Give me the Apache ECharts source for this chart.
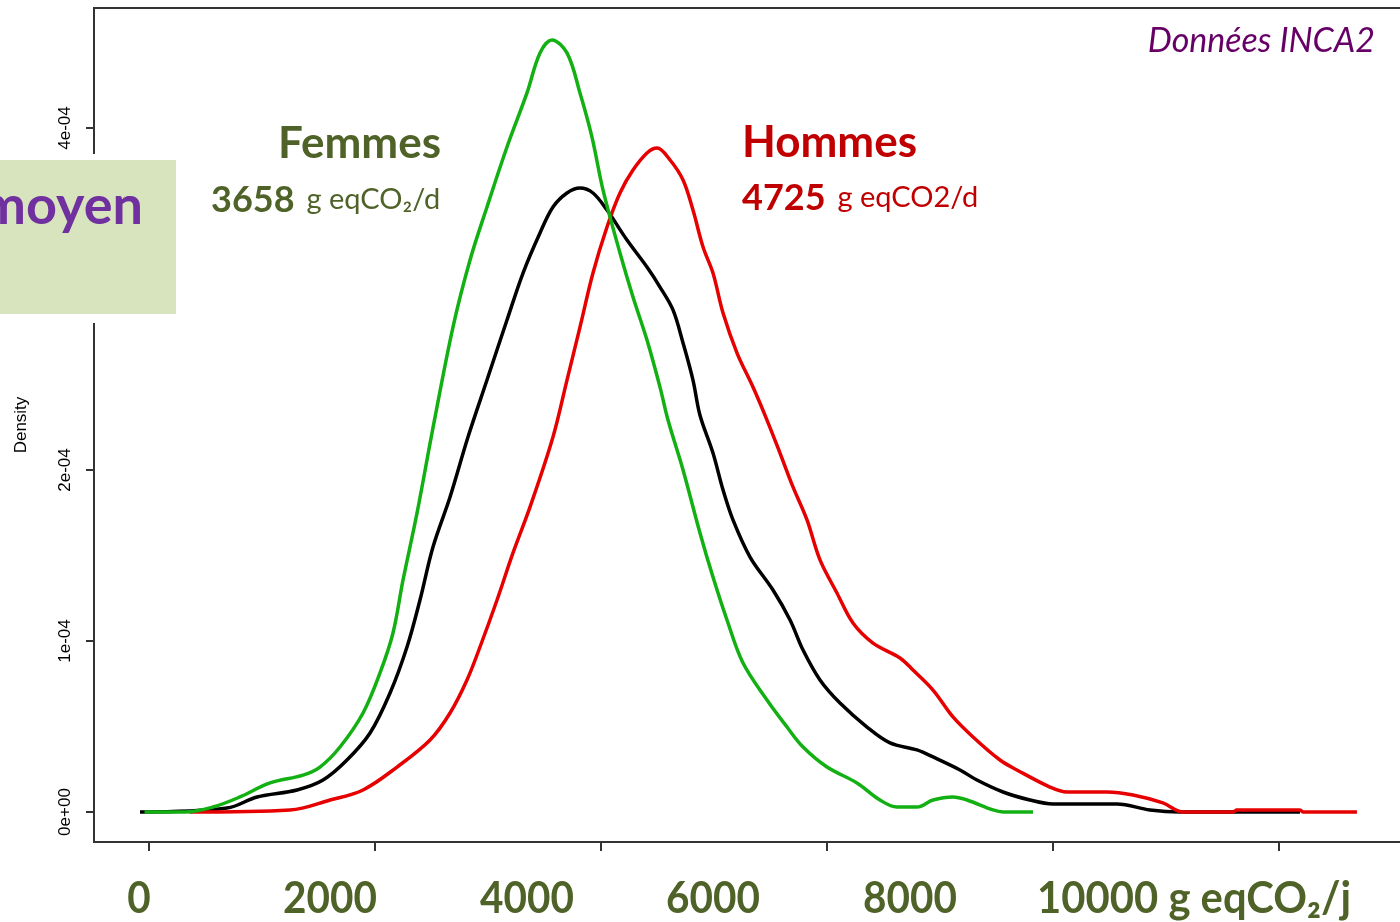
<!DOCTYPE html>
<html>
<head>
<meta charset="utf-8">
<script src="https://cdn.jsdelivr.net/npm/echarts@6/dist/echarts.min.js"></script>
<style>
html,body{margin:0;padding:0;background:#fff;}
#chart{width:1400px;height:922px;}
</style>
</head>
<body>
<div id="chart"></div>
<script>
// ---- data (x: g eqCO2/day, y: density) ----
const femmes = [
  [-40,0],[320,0],[566,2.9e-6],[805,8.8e-6],[1071,1.70e-5],[1363,2.16e-5],[1513,2.63e-5],
  [1690,3.80e-5],[1894,5.79e-5],[2044,8.13e-5],[2159,1.047e-4],[2248,1.357e-4],[2372,1.749e-4],
  [2513,2.246e-4],[2690,2.836e-4],[2841,3.228e-4],[2991,3.538e-4],[3168,3.889e-4],[3345,4.205e-4],
  [3460,4.439e-4],[3566,4.515e-4],[3699,4.439e-4],[3814,4.205e-4],[3920,3.947e-4],[4018,3.637e-4],
  [4168,3.269e-4],[4283,3.012e-4],[4407,2.760e-4],[4522,2.485e-4],[4593,2.292e-4],[4726,2.000e-4],
  [4876,1.632e-4],[4991,1.374e-4],[5115,1.123e-4],[5257,8.71e-5],[5469,6.55e-5],[5646,4.97e-5],
  [5788,3.80e-5],[6000,2.63e-5],[6265,1.70e-5],[6469,7.0e-6],[6619,2.9e-6],[6796,2.9e-6],
  [6938,7.0e-6],[7115,8.8e-6],[7239,7.0e-6],[7469,1.2e-6],[7558,0],[7823,0]
];
const ensemble = [
  [-80,0],[690,2.3e-6],[956,8.8e-6],[1310,1.29e-5],[1540,1.87e-5],[1752,3.04e-5],[1956,4.62e-5],
  [2133,6.96e-5],[2283,9.65e-5],[2398,1.240e-4],[2513,1.550e-4],[2664,1.842e-4],[2823,2.193e-4],
  [2991,2.526e-4],[3168,2.877e-4],[3310,3.152e-4],[3460,3.386e-4],[3575,3.538e-4],[3699,3.620e-4],
  [3814,3.649e-4],[3929,3.620e-4],[4053,3.520e-4],[4230,3.345e-4],[4407,3.187e-4],[4522,3.070e-4],
  [4637,2.936e-4],[4726,2.743e-4],[4814,2.526e-4],[4876,2.320e-4],[4991,2.099e-4],[5080,1.883e-4],
  [5168,1.708e-4],[5319,1.491e-4],[5522,1.298e-4],[5673,1.123e-4],[5788,9.47e-5],[5938,7.72e-5],
  [6115,6.37e-5],[6354,4.97e-5],[6558,4.04e-5],[6796,3.63e-5],[6938,3.22e-5],[7177,2.46e-5],
  [7327,1.87e-5],[7558,1.17e-5],[7796,7.0e-6],[8000,4.7e-6],[8566,4.7e-6],[8858,1.2e-6],
  [9124,0],[10186,0]
];
const hommes = [
  [360,0],[1248,1.2e-6],[1602,7.0e-6],[1894,1.29e-5],[2195,2.63e-5],[2487,4.21e-5],[2664,5.79e-5],
  [2814,7.72e-5],[2929,9.65e-5],[3080,1.240e-4],[3221,1.515e-4],[3372,1.784e-4],[3575,2.193e-4],
  [3699,2.526e-4],[3814,2.836e-4],[3929,3.152e-4],[4053,3.421e-4],[4168,3.620e-4],[4283,3.754e-4],
  [4407,3.854e-4],[4496,3.883e-4],[4611,3.813e-4],[4726,3.696e-4],[4814,3.520e-4],[4903,3.304e-4],
  [4991,3.152e-4],[5080,2.918e-4],[5204,2.684e-4],[5345,2.485e-4],[5469,2.292e-4],[5584,2.099e-4],
  [5699,1.901e-4],[5823,1.708e-4],[5938,1.474e-4],[6088,1.281e-4],[6230,1.105e-4],[6407,9.88e-5],
  [6646,9.01e-5],[6761,8.30e-5],[6938,7.13e-5],[7115,5.56e-5],[7292,4.39e-5],[7531,3.04e-5],
  [7681,2.46e-5],[7973,1.46e-5],[8124,1.17e-5],[8478,1.17e-5],[8708,9.9e-6],[8973,5.3e-6],
  [9150,0],[9593,0],[9628,1.2e-6],[10186,1.2e-6],[10212,0],[10690,0]
];
const xTickValues = [0, 2000, 4000, 6000, 8000, 10000];
const xTickLabels = ['0', '2000', '4000', '6000', '8000', '10000 g eqCO\u2082/j'];
const yTickValues = [0, 1e-4, 2e-4, 3e-4, 4e-4];
const yTickLabels = ['0e+00', '1e-04', '2e-04', '3e-04', '4e-04'];
const femmesMean = '3658';
const hommesMean = '4725';

// ---- chart ----
const chart = echarts.init(document.getElementById('chart'), null, {renderer: 'canvas'});
const olive = '#4F6228';
const xLabelCenters = [139, 330, 527, 713, 910, 1037];

const graphics = [];
xTickLabels.forEach(function (t, i) {
  const last = i === xTickLabels.length - 1;
  graphics.push({
    type: 'text', x: xLabelCenters[i], y: 899, scaleX: last ? 0.95 : 0.92, z: 100,
    style: {text: t, fontFamily: 'Lato', fontWeight: 'bold', fontSize: 44, fill: olive,
            align: last ? 'left' : 'center', verticalAlign: 'middle'}
  });
});
graphics.push(
  {type: 'rect', shape: {x: 0, y: 154, width: 174, height: 169}, style: {fill: '#ffffff'}, z: 89},
  {type: 'rect', shape: {x: 0, y: 160, width: 176, height: 154}, style: {fill: '#D7E4BD'}, z: 90},
  {type: 'text', x: 143, y: 207, z: 100,
   style: {text: 'moyen', fontFamily: 'Lato', fontWeight: 'bold', fontSize: 54, fill: '#7030A0',
           align: 'right', verticalAlign: 'middle'}},
  {type: 'text', x: 441, y: 144, z: 100,
   style: {text: 'Femmes', fontFamily: 'Lato', fontWeight: 'bold', fontSize: 44, fill: olive,
           align: 'right', verticalAlign: 'middle'}},
  {type: 'text', x: 211, y: 200, z: 100,
   style: {text: '{b|' + femmesMean + '}{s| }{r|g eqCO\u2082/d}', align: 'left', verticalAlign: 'middle',
           rich: {b: {fontFamily: 'Lato', fontWeight: 'bold', fontSize: 36, fill: olive},
                  s: {fontFamily: 'Lato', fontSize: 24, width: 12},
                  r: {fontFamily: 'Lato', fontSize: 29, fill: olive}}}},
  {type: 'text', x: 742, y: 143, z: 100,
   style: {text: 'Hommes', fontFamily: 'Lato', fontWeight: 'bold', fontSize: 44, fill: '#C00000',
           align: 'left', verticalAlign: 'middle'}},
  {type: 'text', x: 742, y: 198, z: 100,
   style: {text: '{b|' + hommesMean + '}{s| }{r|g eqCO2/d}', align: 'left', verticalAlign: 'middle',
           rich: {b: {fontFamily: 'Lato', fontWeight: 'bold', fontSize: 36, fill: '#C00000'},
                  s: {fontFamily: 'Lato', fontSize: 24, width: 12},
                  r: {fontFamily: 'Lato', fontSize: 29, fill: '#C00000'}}}},
  {type: 'text', x: 1375, y: 41, z: 100,
   style: {text: 'Donn\u00e9es INCA2', fontFamily: 'Lato', fontStyle: 'italic', fontSize: 34,
           fill: '#660066', align: 'right', verticalAlign: 'middle'}}
);

const option = {
  backgroundColor: '#ffffff',
  animation: false,
  grid: {left: 94, top: 8, width: 1320, height: 834, show: true, containLabel: false,
         outerBoundsMode: 'none',
         borderColor: '#333', borderWidth: 2, backgroundColor: 'transparent'},
  xAxis: {
    type: 'value', min: -487, max: 11195,
    axisLine: {show: false, onZero: false},
    splitLine: {show: false},
    axisTick: {show: true, length: 9, inside: false, customValues: xTickValues,
               lineStyle: {color: '#333', width: 2}},
    axisLabel: {show: false, customValues: xTickValues}
  },
  yAxis: {
    type: 'value', min: -1.754e-5, max: 4.7018e-4,
    name: 'Density', nameLocation: 'middle', nameRotate: 90, nameGap: 64,
    nameTextStyle: {fontFamily: 'Liberation Sans', fontSize: 17, color: '#000'},
    axisLine: {show: false, onZero: false},
    splitLine: {show: false},
    axisTick: {show: true, length: 8, customValues: yTickValues, lineStyle: {color: '#333', width: 2}},
    axisLabel: {show: true, customValues: yTickValues, rotate: 90, margin: 20,
                fontFamily: 'Liberation Sans', fontSize: 17, color: '#000',
                formatter: function (v) { return yTickLabels[Math.round(v / 1e-4)]; }}
  },
  series: [
    {name: 'Ensemble', type: 'line', data: ensemble, showSymbol: false, smooth: 0.35,
     lineStyle: {color: '#000000', width: 3.5}, z: 3},
    {name: 'Hommes', type: 'line', data: hommes, showSymbol: false, smooth: 0.35,
     lineStyle: {color: '#E60000', width: 3.5}, z: 4},
    {name: 'Femmes', type: 'line', data: femmes, showSymbol: false, smooth: 0.35,
     lineStyle: {color: '#12B012', width: 3.5}, z: 5}
  ],
  graphic: graphics
};
chart.setOption(option);
</script>
</body>
</html>
